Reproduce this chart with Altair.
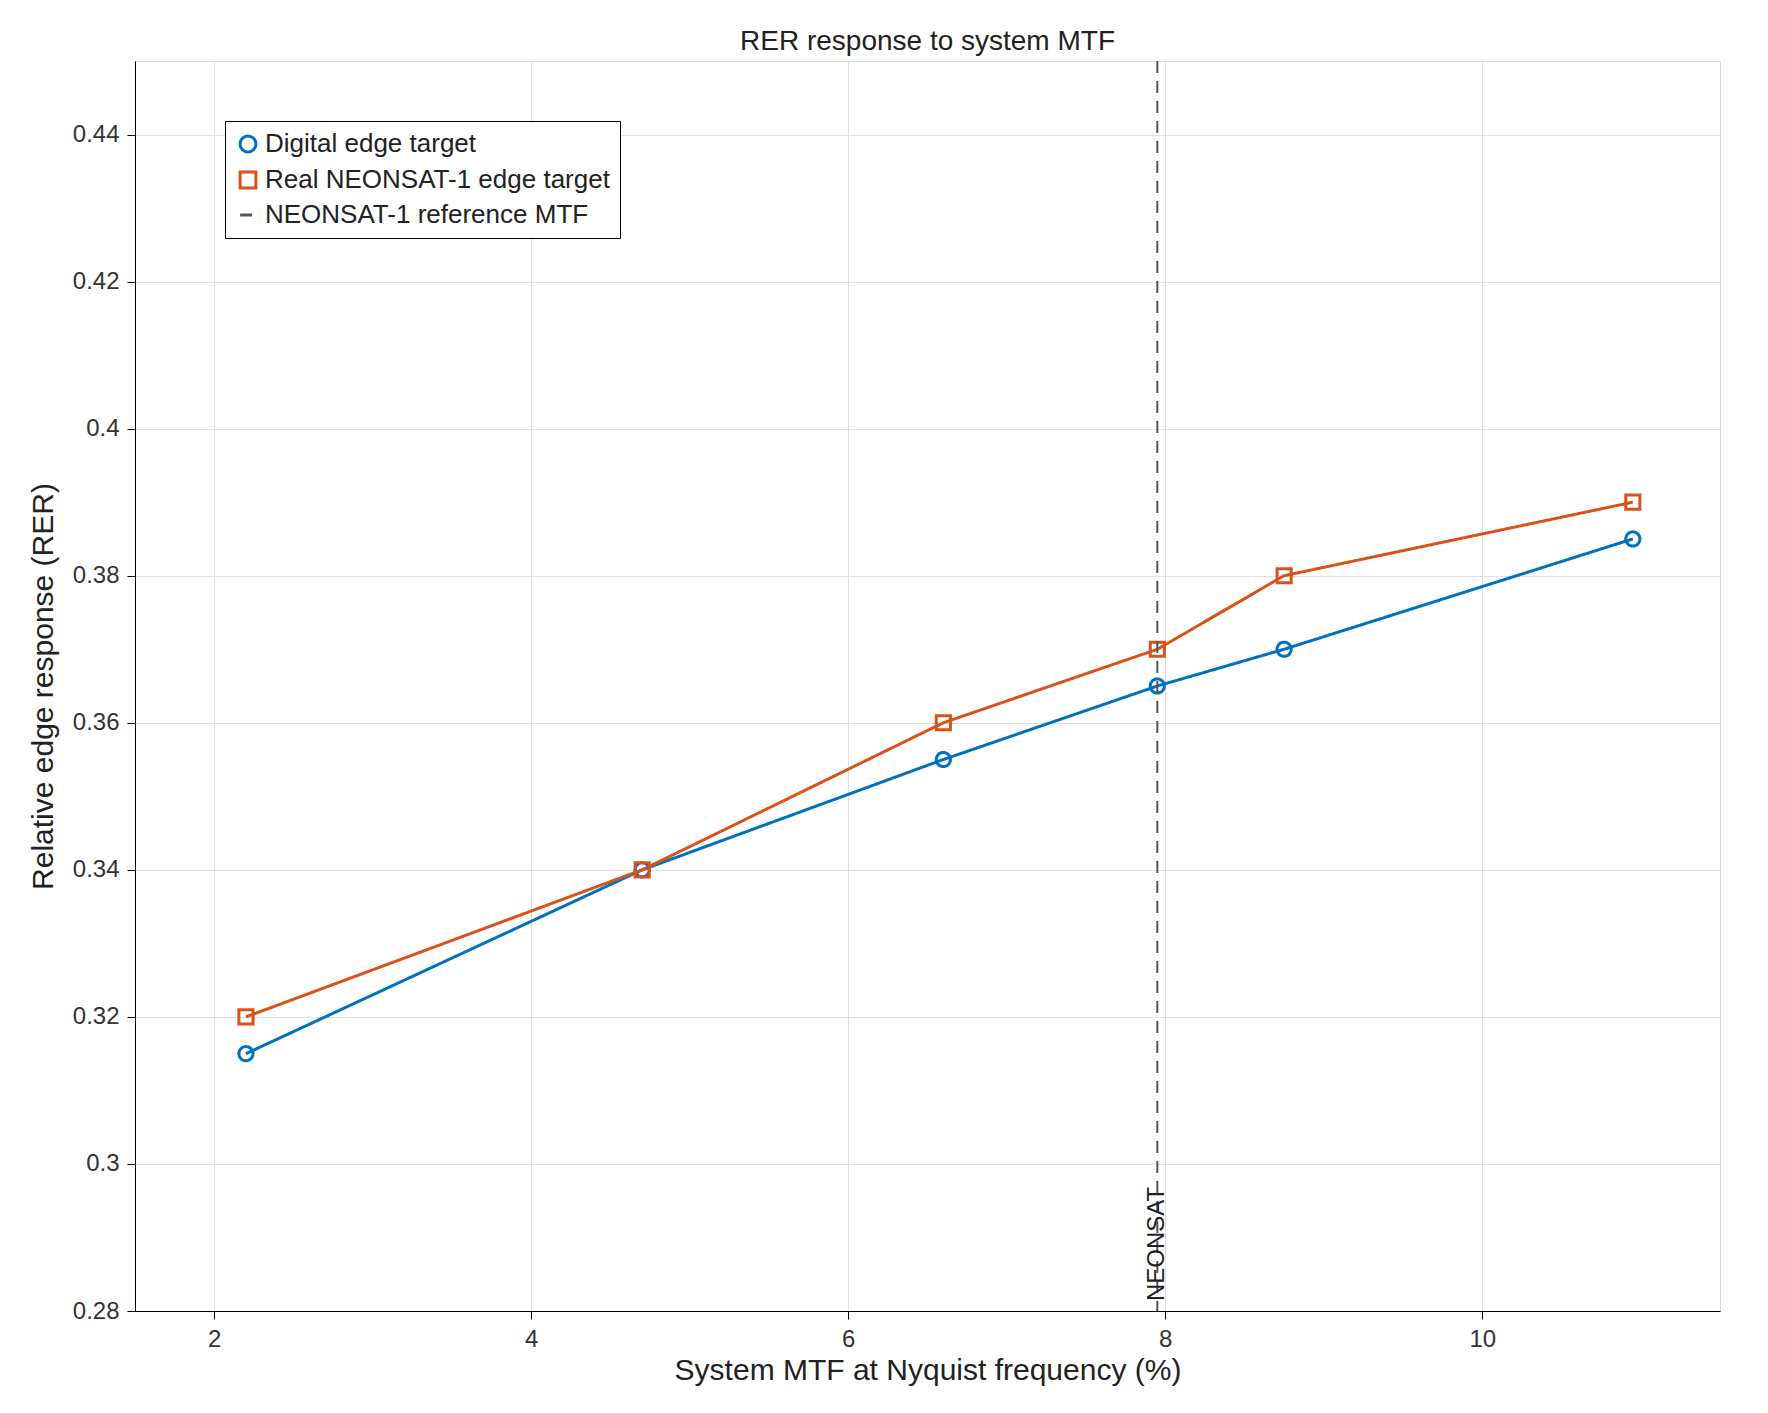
import altair as alt
import pandas as pd

mtf = [2.2, 4.7, 6.6, 7.95, 8.75, 10.95]
digital = [0.315, 0.34, 0.355, 0.365, 0.37, 0.385]
real = [0.32, 0.34, 0.36, 0.37, 0.38, 0.39]
ref_mtf = 7.95
series_names = ["Digital edge target", "Real NEONSAT-1 edge target", "NEONSAT-1 reference MTF"]
colors = ["#0072BD", "#D95319", "#555555"]

rows = [{"x": x, "y": y, "series": series_names[0]} for x, y in zip(mtf, digital)]
rows += [{"x": x, "y": y, "series": series_names[1]} for x, y in zip(mtf, real)]
df = pd.DataFrame(rows)
ref = pd.DataFrame({"x": [ref_mtf], "y": [0.28], "series": [series_names[2]], "label": ["NEONSAT"]})

FONT = "Liberation Sans"
xs = alt.Scale(domain=[1.5, 11.5], nice=False, zero=False)
ys = alt.Scale(domain=[0.28, 0.45], nice=False, zero=False)
color = alt.Color("series:N", scale=alt.Scale(domain=series_names, range=colors),
                  legend=alt.Legend(title=None, orient="none", legendX=90, legendY=60,
                                    strokeColor="black", fillColor="white", padding=10,
                                    labelFontSize=26, labelFont=FONT, symbolSize=250, labelLimit=600,
                                    symbolStrokeWidth=3, labelColor="#222", rowPadding=8))
dash = alt.StrokeDash("series:N", scale=alt.Scale(domain=series_names, range=[[1, 0], [1, 0], [12, 8]]), legend=None)
shape = alt.Shape("series:N", scale=alt.Scale(domain=series_names, range=["circle", "square", "stroke"]), legend=None)

xax = alt.Axis(title="System MTF at Nyquist frequency (%)", values=[2, 4, 6, 8, 10], format="d", gridColor="#e0e0e0",
               labelFontSize=24, titleFontSize=30, labelFont=FONT, titleFont=FONT, titleFontWeight="normal",
               domainColor="black", tickColor="black", labelColor="#333", titleColor="#222", tickSize=8,
               labelPadding=8)
yax = alt.Axis(title="Relative edge response (RER)", values=[0.28, 0.3, 0.32, 0.34, 0.36, 0.38, 0.4, 0.42, 0.44],
               labelExpr="format(datum.value, '.2~f')", gridColor="#e0e0e0",
               labelFontSize=24, titleFontSize=30, labelFont=FONT, titleFont=FONT, titleFontWeight="normal",
               domainColor="black", tickColor="black", labelColor="#333", titleColor="#222", tickSize=8,
               labelPadding=8, titlePadding=14)

lines = alt.Chart(df).mark_line(strokeWidth=3, point=alt.OverlayMarkDef(filled=False, size=200, strokeWidth=3)).encode(
    x=alt.X("x:Q", scale=xs, axis=xax), y=alt.Y("y:Q", scale=ys, axis=yax),
    color=color, strokeDash=dash, shape=shape)
rule = alt.Chart(ref).mark_rule(strokeWidth=2).encode(x="x:Q", color=color, strokeDash=dash)
txt = alt.Chart(ref).mark_text(angle=270, align="left", baseline="middle", dx=10, fontSize=24, font=FONT, color="#222").encode(
    x="x:Q", y="y:Q", text="label:N")

chart = alt.layer(lines, rule, txt).properties(
    width=1752, height=1397,
    padding={"left": 20, "top": 20, "right": 40, "bottom": 20},
    autosize=alt.AutoSizeParams(type="fit", contains="padding"),
    title=alt.Title("RER response to system MTF", fontSize=28, font=FONT, fontWeight="normal", color="#222"),
).configure_view(stroke="black", strokeWidth=2).configure(background="white")

chart.save("out.html", embed_options={"renderer": "svg", "actions": False})
